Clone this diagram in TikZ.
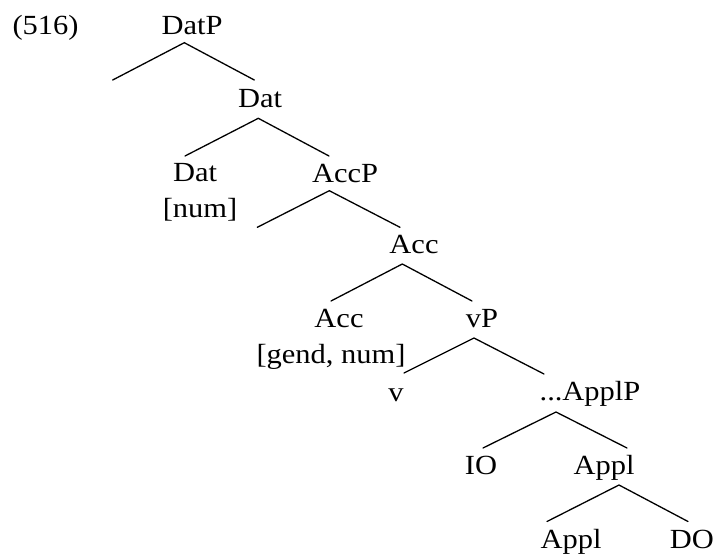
\documentclass[tikz,border=0pt]{standalone}
\usepackage{fontspec}
\setmainfont[FakeStretch=1.1]{Liberation Serif}
\begin{document}
\begin{tikzpicture}[x=1pt,y=-1pt,
  lbl/.style={anchor=base,inner sep=0pt,font=\fontsize{27.7}{33}\selectfont},
  branch/.style={line width=1.3pt,line cap=round}]
\useasboundingbox (0,0) rectangle (716,555);
% labels
\node[lbl] (ex) at (45.5,34) {(516)};
\node[lbl] (datp) at (192,34) {DatP};
\node[lbl] (datbar) at (260,107) {Dat};
\node[lbl] (dat) at (195,181) {Dat};
\node[lbl] (datf) at (200,217) {[num]};
\node[lbl] (accp) at (345,182) {AccP};
\node[lbl] (accbar) at (414,253) {Acc};
\node[lbl] (acc) at (339,327) {Acc};
\node[lbl] (accf) at (331,363) {[gend, num]};
\node[lbl] (vp) at (482,327) {vP};
\node[lbl] (v) at (396,401) {v};
\node[lbl] (applp) at (590,400) {...ApplP};
\node[lbl] (io) at (481,474) {IO};
\node[lbl] (applbar) at (604,474) {Appl};
\node[lbl] (appl) at (571,548.5) {Appl};
\node[lbl] (do) at (692,548.5) {DO};
% branch points
\coordinate (datp-a) at (184.3,42.7);
\coordinate (datp-l) at (112.7,80);
\coordinate (datp-r) at (254.3,80);
\coordinate (datbar-a) at (258.3,118.3);
\coordinate (datbar-l) at (185,156);
\coordinate (datbar-r) at (329,156);
\coordinate (accp-a) at (329.3,190.7);
\coordinate (accp-l) at (257.3,227.3);
\coordinate (accp-r) at (400,227.3);
\coordinate (accbar-a) at (402.3,264);
\coordinate (accbar-l) at (331,301);
\coordinate (accbar-r) at (472,301);
\coordinate (vp-a) at (474,338);
\coordinate (vp-l) at (404,373);
\coordinate (vp-r) at (544,374);
\coordinate (applp-a) at (556,412);
\coordinate (applp-l) at (483,448);
\coordinate (applp-r) at (627,448);
\coordinate (applbar-a) at (619,485);
\coordinate (applbar-l) at (547,521.5);
\coordinate (applbar-r) at (688,521.5);
% branches
\draw[branch] (datp-l) -- (datp-a) -- (datp-r);
\draw[branch] (datbar-l) -- (datbar-a) -- (datbar-r);
\draw[branch] (accp-l) -- (accp-a) -- (accp-r);
\draw[branch] (accbar-l) -- (accbar-a) -- (accbar-r);
\draw[branch] (vp-l) -- (vp-a) -- (vp-r);
\draw[branch] (applp-l) -- (applp-a) -- (applp-r);
\draw[branch] (applbar-l) -- (applbar-a) -- (applbar-r);
\end{tikzpicture}
\end{document}
